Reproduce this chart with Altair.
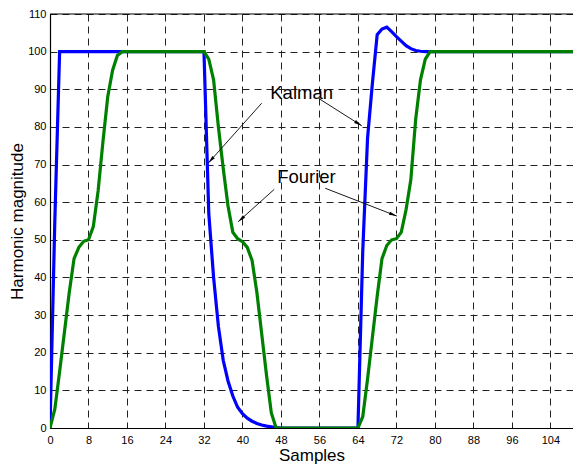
import math
import altair as alt
import pandas as pd

# ---- data ----
samples = list(range(0, 111))

kalman_head = [0, 55]                      # samples 0-1
kalman_fall = [57, 40, 27, 18, 12.5, 8.5, 5.5, 3.8, 2.6, 1.8, 1.2, 0.8, 0.5, 0.3, 0.1]   # samples 33-47
kalman_rise = [47, 77, 91.5, 104.5, 106, 106.5, 105.3, 104, 102.8, 101.6, 100.8, 100.3, 100.1]  # samples 65-77

fourier_rise1 = [0, 5, 15, 25.5, 36, 45, 48, 49.6, 50, 53.5, 63, 76, 88, 95, 99]   # samples 0-14
fourier_fall = [98, 92.5, 80, 69, 59, 52, 50.3, 49.5, 48, 44.5, 36, 25, 14, 4]     # samples 33-46
fourier_rise2 = [3, 13, 24, 35, 45, 48.5, 50, 50.3, 52, 58, 66, 82, 92.5, 98]      # samples 65-78

kalman = (kalman_head + [100] * (32 - 2 + 1) + kalman_fall + [0] * (64 - 48 + 1)
          + kalman_rise + [100] * (110 - 78 + 1))
fourier = (fourier_rise1 + [100] * (32 - 15 + 1) + fourier_fall + [0] * (64 - 47 + 1)
           + fourier_rise2 + [100] * (110 - 79 + 1))

x_ticks = list(range(0, 105, 8))
y_ticks = list(range(0, 111, 10))

# annotations (data coordinates)
ann_text = ["Kalman", "Fourier"]
ann_tx = [52.3, 53.3]
ann_ty = [88.9, 66.8]
arrow_x1 = [44.0, 55.8, 46.6, 57.2]
arrow_y1 = [86.3, 87.6, 63.4, 63.7]
arrow_x2 = [32.9, 64.8, 39.1, 72.1]
arrow_y2 = [70.4, 80.3, 54.8, 56.3]

# the reference image crops the plot just before its right edge (x = 110)
XVIS = 108.7
W, H = 523, 414
YMAX = 110

df_k = pd.DataFrame({"Samples": samples, "value": kalman})
df_f = pd.DataFrame({"Samples": samples, "value": fourier})

angles = []
for x1, y1, x2, y2 in zip(arrow_x1, arrow_y1, arrow_x2, arrow_y2):
    dx = (x2 - x1) * W / XVIS
    dy = -(y2 - y1) * H / YMAX
    angles.append(math.degrees(math.atan2(dx, -dy)) % 360)
df_arrow = pd.DataFrame({"Samples": arrow_x1, "value": arrow_y1, "x2": arrow_x2,
                         "y2": arrow_y2, "angle": angles})
df_head = pd.DataFrame({"Samples": arrow_x2, "value": arrow_y2, "angle": angles})
df_text = pd.DataFrame({"Samples": ann_tx, "value": ann_ty, "label": ann_text})
df_top = pd.DataFrame({"value": [YMAX]})

FONT = "Liberation Sans"
xscale = alt.Scale(domain=[0, XVIS], nice=False, zero=False)
yscale = alt.Scale(domain=[0, YMAX], nice=False, zero=False)

xaxis = alt.Axis(values=x_ticks, title="Samples", grid=True, gridDash=[7, 5],
                 gridColor="#222", gridWidth=1, gridOpacity=1, ticks=False,
                 domainColor="black", domainWidth=1.2, labelFont=FONT,
                 labelFontSize=11, labelColor="black", labelPadding=6,
                 titleFont=FONT, titleFontSize=17, titleFontWeight="normal",
                 titleColor="black", titleBaseline="alphabetic", titleY=32,
                 labelFlush=False, labelOverlap=False)
yaxis = alt.Axis(values=y_ticks, title="Harmonic magnitude", grid=True, gridDash=[7, 5],
                 gridColor="#222", gridWidth=1, gridOpacity=1, ticks=False,
                 domainColor="black", domainWidth=1.2, labelFont=FONT,
                 labelFontSize=11, labelColor="black", labelPadding=4,
                 titleFont=FONT, titleFontSize=17, titleFontWeight="normal",
                 titleColor="black", titleBaseline="alphabetic", titleX=-28,
                 labelFlush=False, labelOverlap=False)

X = alt.X("Samples:Q", scale=xscale, axis=xaxis)
Y = alt.Y("value:Q", scale=yscale, axis=yaxis)

line_k = alt.Chart(df_k).mark_line(color="#0000FF", strokeWidth=3.2, clip=True).encode(x=X, y=Y)
line_f = alt.Chart(df_f).mark_line(color="#008000", strokeWidth=3.2, clip=True).encode(x=X, y=Y)
arrows = alt.Chart(df_arrow).mark_rule(color="black", strokeWidth=0.9).encode(
    x=X, y=Y, x2="x2:Q", y2="y2:Q",
)
heads = alt.Chart(df_head).mark_point(
    shape="M0,0L0.42,2L-0.42,2Z", filled=True, color="black", size=64, opacity=1
).encode(x=X, y=Y, angle=alt.Angle("angle:Q", scale=None))
texts = alt.Chart(df_text).mark_text(font=FONT, fontSize=18.5, color="black",
                                     align="center", baseline="middle").encode(
    x=X, y=Y, text="label:N",
)
top_border = alt.Chart(df_top).mark_rule(color="black", strokeWidth=1.2).encode(y=Y)

chart = alt.layer(line_k, line_f, arrows, heads, texts, top_border).properties(
    width=W, height=H,
    background="white",
    autosize=alt.AutoSizeParams(type="none"),
    padding={"left": 42, "top": 6, "right": 0, "bottom": 37},
).configure_view(strokeWidth=0)

chart.save("out.html", embed_options={"renderer": "svg", "actions": False})
